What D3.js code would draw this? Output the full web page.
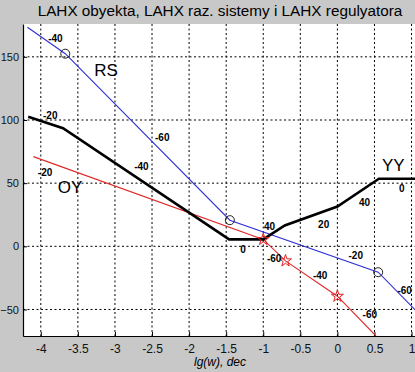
<!DOCTYPE html>
<html>
<head>
<meta charset="utf-8">
<script src="https://cdn.jsdelivr.net/npm/d3@7"></script>
<style>
	body { margin: 0; background: #c8c8c8; }
	svg { display: block; font-family: "Liberation Sans", Arial, sans-serif; }
</style>
</head>
<body>
<script>
'use strict';
(function() {
	//Asymptotic LAHX curves, [lg(w), dB]
	var systemLine = [[-4.17,102.5],[-3.7,93.5],[-1.46,5.5],[-1,5.5],[-0.71,16.5],[0,31.5],[0.56,53.5],[1.06,53.5]];
	var regulatorLine = [[-4.18,173.4],[-3.67,152.5],[-1.45,20.7],[0.55,-20.5],[1.06,-51]];
	var objectLine = [[-4.1,71],[-1,5.5],[-0.7,-11.5],[0,-39.5],[0.52,-71]];
	//Break points marked on the curves
	var regulatorBreaks = [[-3.67,152.5],[-1.45,20.7],[0.55,-20.5]];
	var objectBreaks = [[-1,5.5],[-0.7,-11.5],[0,-39.5]];
	//Slope labels [x, y, text]
	var slopeLabels = [
		[-3.9,164.9,'-40'],[-3.97,103.9,'-20'],[-2.46,86.5,'-60'],[-2.74,63,'-40'],
		[-4.04,58.2,'-20'],[-1.31,-2.3,'0'],[-0.99,15.4,'40'],[-0.95,-9.4,'-60'],
		[0.83,45.8,'0'],[0.29,35,'40'],[-0.26,17.5,'20'],[0.15,-7.6,'-20'],
		[-0.33,-22.9,'-40'],[0.81,-34.8,'-60'],[0.34,-53.8,'-60']
	];
	//Curve names
	var curveNames = [[-3.28,139.5,'RS'],[-3.77,46.8,'OY'],[0.6,64.3,'YY']];
	var xTicks = [-4,-3.5,-3,-2.5,-2,-1.5,-1,-0.5,0,0.5,1];
	var yTicks = [-50,0,50,100,150];

	var width = 415, height = 372;
	var margin = {top: 24, right: -1, bottom: 36, left: 23};
	var innerW = width - margin.left - margin.right;
	var innerH = height - margin.top - margin.bottom;

	var svg = d3.select('body').append('svg')
		.attr('width', width)
		.attr('height', height);

	var x = d3.scaleLinear().domain([-4.24, 1.06]).range([0, innerW]);
	var y = d3.scaleLinear().domain([-71, 176]).range([innerH, 0]);

	svg.append('defs').append('clipPath').attr('id','plotClip')
		.append('rect').attr('width', innerW).attr('height', innerH);

	var g = svg.append('g')
		.attr('transform', 'translate(' + margin.left + ',' + margin.top + ')');

	g.append('rect')
		.attr('width', innerW)
		.attr('height', innerH)
		.attr('fill', '#ffffff');

	//Dotted grid
	g.append('g').selectAll('line')
		.data(xTicks)
		.enter().append('line')
			.attr('x1', function(d){return x(d);})
			.attr('x2', function(d){return x(d);})
			.attr('y1', 0).attr('y2', innerH)
			.attr('stroke', '#000').attr('stroke-dasharray', '2,2.5');
	g.append('g').selectAll('line')
		.data(yTicks)
		.enter().append('line')
			.attr('y1', function(d){return y(d);})
			.attr('y2', function(d){return y(d);})
			.attr('x1', 0).attr('x2', innerW)
			.attr('stroke', '#000').attr('stroke-dasharray', '2,2.5');

	//Axes (ticks pointing inward)
	var xAxis = g.append('g')
		.attr('transform', 'translate(0,' + innerH + ')')
		.call(d3.axisBottom(x).tickValues(xTicks).tickSize(-4).tickSizeOuter(0).tickPadding(8)
			.tickFormat(function(d){return String(d);}));
	var yAxis = g.append('g')
		.call(d3.axisLeft(y).tickValues(yTicks).tickSize(-4).tickSizeOuter(0).tickPadding(4));
	[xAxis, yAxis].forEach(function(a) {
		a.select('.domain').attr('stroke', '#000').attr('stroke-width', 1.2);
		a.selectAll('text').attr('font-size', '12px').attr('fill', '#111')
			.attr('font-family', '"Liberation Sans", Arial, sans-serif');
	});
	yAxis.selectAll('text').attr('font-size', '11px');

	var line = d3.line()
		.x(function(d){return x(d[0]);})
		.y(function(d){return y(d[1]);});

	var plot = g.append('g').attr('clip-path', 'url(#plotClip)');
	plot.append('path').datum(regulatorLine)
		.attr('d', line).attr('fill', 'none')
		.attr('stroke', '#2f2fd6').attr('stroke-width', 1.1);
	plot.append('path').datum(objectLine)
		.attr('d', line).attr('fill', 'none')
		.attr('stroke', '#e02828').attr('stroke-width', 1.1);
	plot.append('path').datum(systemLine)
		.attr('d', line).attr('fill', 'none')
		.attr('stroke', '#000').attr('stroke-width', 2.6);

	//Markers
	plot.selectAll('circle.brk')
		.data(regulatorBreaks)
		.enter().append('circle')
			.attr('class', 'brk')
			.attr('cx', function(d){return x(d[0]);})
			.attr('cy', function(d){return y(d[1]);})
			.attr('r', 4.5)
			.attr('fill', 'none').attr('stroke', '#222');
	plot.selectAll('path.star')
		.data(objectBreaks)
		.enter().append('path')
			.attr('class', 'star')
			.attr('transform', function(d){return 'translate(' + x(d[0]) + ',' + y(d[1]) + ')';})
			.attr('d', d3.symbol().type(d3.symbolStar).size(45))
			.attr('fill', 'none').attr('stroke', '#e02020');

	//Slope labels
	g.selectAll('text.slope')
		.data(slopeLabels)
		.enter().append('text')
			.attr('class', 'slope')
			.attr('x', function(d){return x(d[0]);})
			.attr('y', function(d){return y(d[1]);})
			.attr('dy', '0.35em')
			.attr('font-size', '10px')
			.attr('font-weight', 'bold')
			.text(function(d){return d[2];});
	g.selectAll('text.name')
		.data(curveNames)
		.enter().append('text')
			.attr('class', 'name')
			.attr('x', function(d){return x(d[0]);})
			.attr('y', function(d){return y(d[1]);})
			.attr('dy', '0.35em')
			.attr('font-size', '17px')
			.text(function(d){return d[2];});

	//Title and x label
	svg.append('text')
		.attr('x', 220).attr('y', 11).attr('dy', '0.35em')
		.attr('text-anchor', 'middle')
		.attr('font-size', '15.3px')
		.text('LAHX obyekta, LAHX raz. sistemy i LAHX regulyatora');
	svg.append('text')
		.attr('x', 220).attr('y', 362).attr('dy', '0.35em')
		.attr('text-anchor', 'middle')
		.attr('font-size', '12px')
		.attr('font-style', 'italic')
		.text('lg(w), dec');
})();
</script>
</body>
</html>
